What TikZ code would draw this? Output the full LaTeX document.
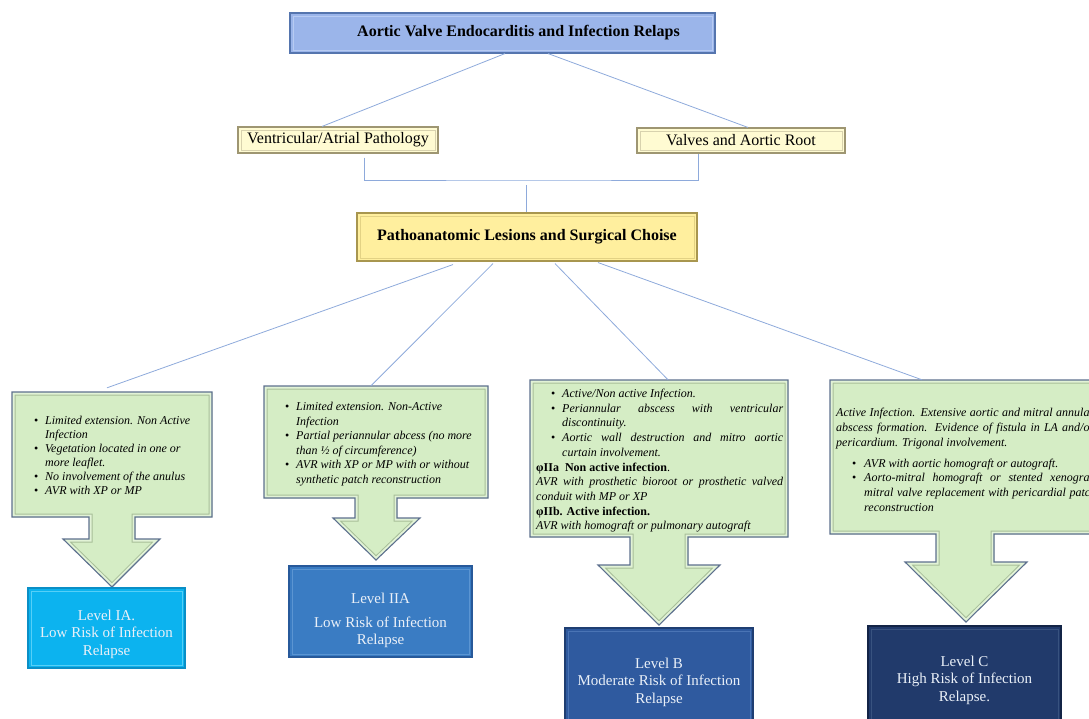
\documentclass[tikz,border=0pt]{standalone}
\usepackage{fontspec}
\setmainfont{Liberation Serif}
\definecolor{connc}{HTML}{8EAADB}
\definecolor{titlefill}{HTML}{9BB5EA}
\definecolor{titleedge}{HTML}{5575AE}
\definecolor{titlein}{HTML}{B7CBF2}
\definecolor{creamfill}{HTML}{FFFBD2}
\definecolor{creamedge}{HTML}{9E9672}
\definecolor{creamin}{HTML}{D8D2AE}
\definecolor{yelfill}{HTML}{FFEF9E}
\definecolor{yeledge}{HTML}{A8964F}
\definecolor{yelin}{HTML}{E3D284}
\definecolor{greenfill}{HTML}{D5EDC5}
\definecolor{greenedge}{HTML}{5D708E}
\definecolor{greenband}{HTML}{E2F3D6}
\definecolor{greeninner}{HTML}{A7BE98}
\definecolor{lvlA}{HTML}{0CB3EF}
\definecolor{lvlAedge}{HTML}{0A8FC6}
\definecolor{lvlAin}{HTML}{55CFF7}
\definecolor{lvlII}{HTML}{3A7CC3}
\definecolor{lvlIIedge}{HTML}{27599A}
\definecolor{lvlIIin}{HTML}{5B95D2}
\definecolor{lvlB}{HTML}{2F5A9F}
\definecolor{lvlBedge}{HTML}{1F3E72}
\definecolor{lvlBin}{HTML}{4A74B5}
\definecolor{lvlC}{HTML}{213A6B}
\definecolor{lvlCedge}{HTML}{132446}
\definecolor{lvlCin}{HTML}{38527F}
\definecolor{lvltext}{HTML}{EAF0F8}
\newcommand{\cbul}{\makebox[11pt][l]{\upshape\textbullet}}
\newcommand{\cind}{\hspace*{11pt}}
\newcommand{\greenshape}[1]{%
  \fill[greenfill] #1;
  \begin{scope}
    \clip #1;
    \draw[line width=7pt, greeninner, line join=miter] #1;
    \draw[line width=5pt, greenband, line join=miter] #1;
  \end{scope}
  \draw[greenedge, line width=1.1pt, line join=miter] #1;
}
\begin{document}
\begin{tikzpicture}[x=1pt,y=-1pt,
  conn/.style={draw=connc, line width=0.8pt},
  bevel/.style={path picture={\draw[#1, line width=1pt]
      ([shift={(3pt,-3pt)}]path picture bounding box.north west) rectangle
      ([shift={(-3pt,3pt)}]path picture bounding box.south east);}},
  tbox/.style={rectangle, fill=titlefill, draw=titleedge, line width=1.1pt, bevel=titlein, inner sep=0pt},
  cbox/.style={rectangle, fill=creamfill, draw=creamedge, line width=1.1pt, bevel=creamin, inner sep=0pt,
      font=\fontsize{16}{19}\selectfont},
  ybox/.style={rectangle, fill=yelfill, draw=yeledge, line width=1.1pt, bevel=yelin, inner sep=0pt,
      font=\fontsize{16}{19}\selectfont\bfseries},
  hold/.style={rectangle, draw=none, inner sep=0pt},
  lvl/.style={rectangle, line width=1.2pt, text=lvltext, font=\fontsize{15}{17.5}\selectfont,
      align=center, inner sep=0pt},
  ctext/.style={anchor=north west, inner sep=0pt, align=left, font=\fontsize{12}{14}\selectfont\itshape},
]
\useasboundingbox (0,0) rectangle (1089,718);
\clip (0,0) rectangle (1089,718);

% green callout shapes
\greenshape{(12,392) -- (212,392) -- (212,517) -- (135,517) -- (135,539) -- (160,539) -- (112,587) -- (63,539) -- (89,539) -- (89,517) -- (12,517) -- cycle}
\greenshape{(264,386) -- (488,386) -- (488,498) -- (397,498) -- (397,518) -- (420,518) -- (376,560) -- (333,518) -- (355,518) -- (355,498) -- (264,498) -- cycle}
\greenshape{(530,380) -- (788,380) -- (788,537) -- (688,537) -- (688,565) -- (720,565) -- (659,625) -- (598,565) -- (630,565) -- (630,537) -- (530,537) -- cycle}
\greenshape{(830,380) -- (1100,380) -- (1100,534) -- (994,534) -- (994,562) -- (1027,562) -- (966,622) -- (905,562) -- (936,562) -- (936,534) -- (830,534) -- cycle}

\node[hold, minimum width=200pt, minimum height=125pt] (cb1) at (112,454.5) {};
\node[hold, minimum width=224pt, minimum height=112pt] (cb2) at (376,442) {};
\node[hold, minimum width=258pt, minimum height=157pt] (cb3) at (659,458.5) {};
\node[hold, minimum width=270pt, minimum height=154pt] (cb4) at (965,457) {};

% top nodes
\node[tbox, minimum width=425pt, minimum height=40pt, font=\fontsize{16}{19}\selectfont\bfseries] (title) at (502.5,33)
  {\hspace*{32pt}Aortic Valve Endocarditis and Infection Relaps};
\node[cbox, minimum width=200pt, minimum height=26pt] (va) at (338,140) {Ventricular/Atrial Pathology};
\node[cbox, minimum width=208pt, minimum height=25pt] (var) at (741,140.5) {Valves and Aortic Root};
\node[ybox, minimum width=340pt, minimum height=48pt] (path) at (527,237) {Pathoanatomic Lesions and Surgical Choise};

% connectors
\draw[conn] ([xshift=2.5pt]title.south) -- ([xshift=-16pt]va.north);
\draw[conn] ([xshift=45.5pt]title.south) -- ([xshift=7pt]var.north);
\coordinate (brk) at (526,180);
\draw[conn] ([xshift=26pt,yshift=-4pt]va.south) |- (brk) -| ([xshift=-43pt]var.south);
\draw[conn] ([yshift=-5pt]brk) -- ([xshift=-1pt]path.north);
\draw[conn] ([xshift=-74pt,yshift=-3pt]path.south) -- ([xshift=-5pt,yshift=4pt]cb1.north);
\draw[conn] ([xshift=-34pt,yshift=-2pt]path.south) -- ([xshift=-5pt]cb2.north);
\draw[conn] ([xshift=28pt,yshift=-2pt]path.south) -- ([xshift=9pt]cb3.north);
\draw[conn] ([xshift=71pt,yshift=-1pt]path.south) -- ([xshift=-43pt]cb4.north);

% callout texts
\node[ctext] (t1) at (34,416) {%
\cbul Limited extension. Non Active\\
\cind Infection\\
\cbul Vegetation located in one or\\
\cind more leaflet.\\
\cbul No involvement of the anulus\\
\cbul AVR with XP or MP};

\node[ctext, font=\fontsize{12}{14.6}\selectfont\itshape] (t2) at (285,402) {%
\cbul Limited extension. Non-Active\\
\cind Infection\\
\cbul Partial periannular abcess (no more\\
\cind than ½ of circumference)\\
\cbul AVR with XP or MP with or without\\
\cind synthetic patch reconstruction};

\node[ctext, font=\fontsize{12}{14.67}\selectfont\itshape] (t3) at (536,389) {%
\hspace*{15pt}\cbul Active/Non active Infection.\\
\hspace*{15pt}\cbul\makebox[221pt][s]{Periannular abscess with ventricular}\\
\hspace*{26pt}discontinuity.\\
\hspace*{15pt}\cbul\makebox[221pt][s]{Aortic wall destruction and mitro aortic}\\
\hspace*{26pt}curtain involvement.\\
{\upshape\bfseries φIIa\ \ Non active infection}{\upshape .}\\
\makebox[247pt][s]{AVR with prosthetic bioroot or prosthetic valved}\\
conduit with MP or XP\\
{\upshape\bfseries φIIb. Active infection.}\\
AVR with homograft or pulmonary autograft};

\node[ctext, font=\fontsize{12}{14.8}\selectfont\itshape] (t4) at (836,408) {%
\makebox[258pt][s]{Active Infection. Extensive aortic and mitral annular}\\
\makebox[258pt][s]{abscess formation. Evidence of fistula in LA and/or}\\
pericardium. Trigonal involvement.\\[6pt]
\hspace*{16pt}\makebox[12pt][l]{\upshape\textbullet}AVR with aortic homograft or autograft.\\
\hspace*{16pt}\makebox[12pt][l]{\upshape\textbullet}\makebox[232pt][s]{Aorto-mitral homograft or stented xenograft}\\
\hspace*{28pt}\makebox[232pt][s]{mitral valve replacement with pericardial patch}\\
\hspace*{28pt}reconstruction};

% level boxes
\node[lvl, fill=lvlA, draw=lvlAedge, bevel=lvlAin, minimum width=157pt, minimum height=80pt] (L1) at (106.5,628)
  {\rule{0pt}{23pt}Level IA.\\Low Risk of Infection\\Relapse};
\node[lvl, fill=lvlII, draw=lvlIIedge, bevel=lvlIIin, minimum width=183pt, minimum height=91pt] (L2) at (380.5,611.5)
  {\rule{0pt}{29pt}Level IIA\\[6pt]Low Risk of Infection\\Relapse};
\node[lvl, fill=lvlB, draw=lvlBedge, bevel=lvlBin, minimum width=188pt, minimum height=102pt] (L3) at (659,679)
  {\rule{0pt}{17pt}Level B\\Moderate Risk of Infection\\Relapse};
\node[lvl, fill=lvlC, draw=lvlCedge, bevel=lvlCin, minimum width=193pt, minimum height=104pt] (L4) at (964.5,678)
  {\rule{0pt}{15pt}Level C\\High Risk of Infection\\Relapse.};
\end{tikzpicture}
\end{document}
